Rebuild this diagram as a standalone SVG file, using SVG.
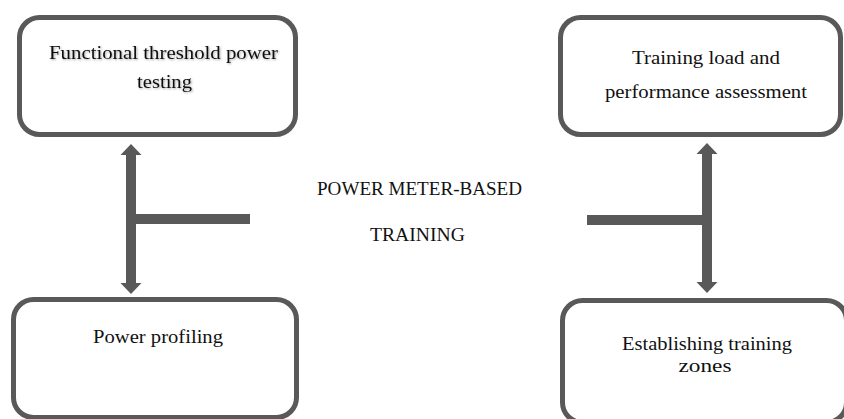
<svg xmlns="http://www.w3.org/2000/svg" width="844" height="419" viewBox="0 0 844 419">
  <style>
    .box { fill: #ffffff; stroke: #595959; stroke-width: 5; }
    .label { font-family: "Liberation Serif", "DejaVu Serif", serif; font-size: 19px; fill: #111111; text-anchor: middle; }
    .link { fill: #595959; }
  </style>
  <defs>
    <filter id="soft-shadow" x="-10%" y="-30%" width="120%" height="160%">
      <feDropShadow dx="1" dy="1" stdDeviation="0.8" flood-color="#000000" flood-opacity="0.35"/>
    </filter>
  </defs>
  <rect width="844" height="419" fill="#ffffff"/>

  <g id="connectors">
    <!-- left: double arrow with a stub towards the centre -->
    <polygon class="link" points="131,144 141.5,155 136,155 136,214 250,214 250,224 136,224 136,283 141.5,283 131,294 120.5,283 126,283 126,155 120.5,155"/>
    <!-- right: double arrow with a stub towards the centre -->
    <polygon class="link" points="707,143 717.5,154 712,154 712,282 717.5,282 707,293 696.5,282 702,282 702,225 587,225 587,215 702,215 702,154 696.5,154"/>
  </g>

  <g id="node-ftp">
    <rect class="box" x="19.5" y="17.5" width="276" height="117" rx="20"/>
    <g filter="url(#soft-shadow)">
      <text class="label" x="163.5" y="59" textLength="229" lengthAdjust="spacingAndGlyphs">Functional threshold power</text>
      <text class="label" x="164.5" y="88" textLength="55" lengthAdjust="spacingAndGlyphs">testing</text>
    </g>
  </g>

  <g id="node-load">
    <rect class="box" x="560.5" y="17.5" width="280" height="117" rx="20"/>
    <text class="label" x="706" y="64" textLength="148" lengthAdjust="spacingAndGlyphs">Training load and</text>
    <text class="label" x="706" y="98" textLength="202" lengthAdjust="spacingAndGlyphs">performance assessment</text>
  </g>

  <g id="node-profiling">
    <rect class="box" x="13.5" y="299.5" width="283" height="118" rx="20"/>
    <text class="label" x="158" y="343" textLength="130" lengthAdjust="spacingAndGlyphs">Power profiling</text>
  </g>

  <g id="node-zones">
    <rect class="box" x="562.5" y="300.5" width="284" height="122" rx="20"/>
    <text class="label" x="707" y="350" textLength="170" lengthAdjust="spacingAndGlyphs">Establishing training</text>
    <text class="label" x="705" y="372" textLength="53" lengthAdjust="spacingAndGlyphs">zones</text>
  </g>

  <g id="node-centre">
    <text class="label" x="419.5" y="195" textLength="205" lengthAdjust="spacingAndGlyphs">POWER METER-BASED</text>
    <text class="label" x="417.5" y="241" textLength="95" lengthAdjust="spacingAndGlyphs">TRAINING</text>
  </g>
</svg>
